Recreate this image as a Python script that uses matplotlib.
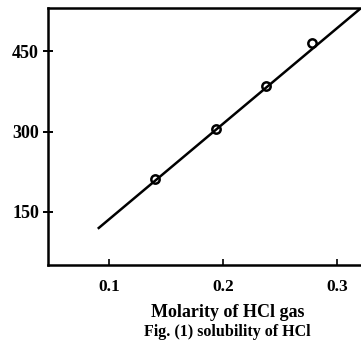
import matplotlib
matplotlib.use('Agg')
import matplotlib.pyplot as plt

# measured points
molarity = [0.14, 0.194, 0.238, 0.278]
solubility = [211, 305, 385, 465]
# fitted straight line (end points)
fit_x = [0.091, 0.33]
fit_y = [120, 547]

xticks = [0.1, 0.2, 0.3]
yticks = [150, 300, 450]

plt.rcParams['font.family'] = 'Liberation Serif'
plt.rcParams['font.weight'] = 'bold'

fig = plt.figure(figsize=(3.61, 3.49), dpi=100)
ax = fig.add_axes([0.133, 0.241, 0.867, 0.736])

ax.plot(fit_x, fit_y, color='black', lw=1.8, zorder=2)
ax.plot(molarity, solubility, 'o', ms=6, mfc='none', mec='black', mew=1.8, zorder=3)

ax.set_xlim(0.0465, 0.321)
ax.set_ylim(51, 531)
ax.set_xticks(xticks)
ax.set_xticklabels(['0.1', '0.2', '0.3'])
ax.set_yticks(yticks)
ax.set_yticklabels(['150', '300', '450'])
ax.tick_params(axis='x', direction='in', length=4, width=1.2, labelsize=12.5, pad=10)
ax.tick_params(axis='y', direction='inout', length=7, width=1.4, labelsize=13, pad=3)

for s in ['left', 'bottom', 'top']:
    ax.spines[s].set_linewidth(1.8)
ax.spines['right'].set_visible(False)

fig.text(0.632, 0.106, 'Molarity of HCl gas', ha='center', va='center',
         fontsize=13, fontweight='bold')
fig.text(0.630, 0.048, 'Fig. (1) solubility of HCl', ha='center', va='center',
         fontsize=11.5, fontweight='bold')

fig.savefig('out.png', dpi=100)
